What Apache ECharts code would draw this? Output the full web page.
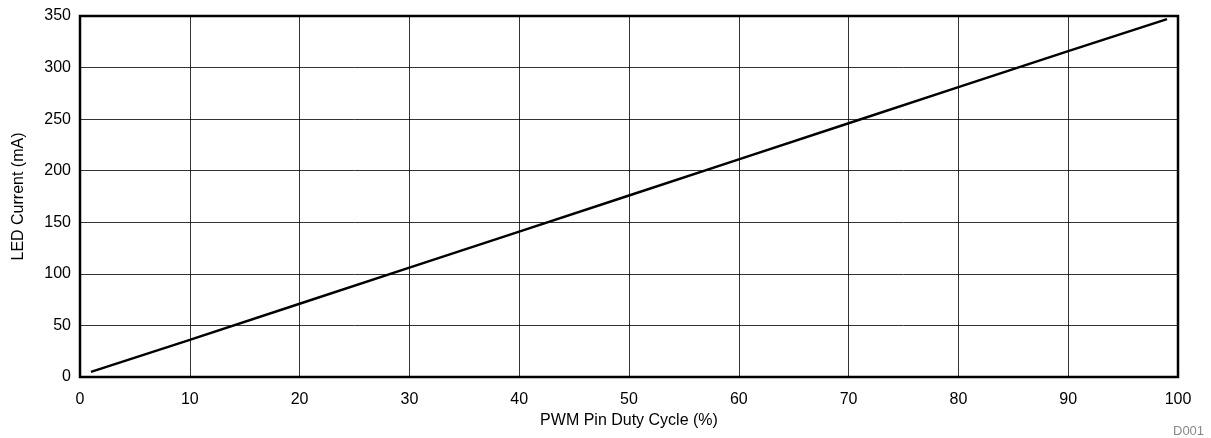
<!DOCTYPE html>
<html><head><meta charset="utf-8">
<script src="https://cdn.jsdelivr.net/npm/echarts@6/dist/echarts.min.js"></script>
<style>html,body{margin:0;padding:0;background:#fff}#c{width:1211px;height:438px}</style>
</head><body><div id="c"></div>
<script>
const dutyCycle = [1, 10, 20, 30, 40, 50, 60, 70, 80, 90, 99];
const ledCurrent = [5, 36, 71, 106, 141, 176, 211, 246, 281, 316, 347];
const xTitle = 'PWM Pin Duty Cycle (%)';
const yTitle = 'LED Current (mA)';
const note = 'D001';

const chart = echarts.init(document.getElementById('c'));
const font = 'Liberation Sans, Arial, sans-serif';
chart.setOption({
  animation: false,
  grid: { left: 80, right: 33, top: 16, bottom: 61, show: true, borderColor: '#000', borderWidth: 2.5, backgroundColor: 'transparent' },
  xAxis: {
    type: 'value', min: 0, max: 100, interval: 10,
    name: xTitle, nameLocation: 'middle', nameGap: 31,
    nameTextStyle: { fontFamily: font, fontSize: 16, color: '#000' },
    axisLine: { show: false }, axisTick: { show: false },
    axisLabel: { fontFamily: font, fontSize: 16, color: '#000', margin: 15 },
    splitLine: { show: true, lineStyle: { color: '#000', width: 0.8 } }
  },
  yAxis: {
    type: 'value', min: 0, max: 350, interval: 50,
    name: yTitle, nameLocation: 'middle', nameGap: 53,
    nameTextStyle: { fontFamily: font, fontSize: 16, color: '#000' },
    axisLine: { show: false }, axisTick: { show: false },
    axisLabel: { fontFamily: font, fontSize: 16, color: '#000', margin: 9 },
    splitLine: { show: true, lineStyle: { color: '#000', width: 0.8 } }
  },
  graphic: [{ type: 'text', left: 1173, top: 425, style: { text: note, fontFamily: font, fontSize: 13, fill: '#888' } }],
  series: [{
    type: 'line', data: dutyCycle.map((d, i) => [d, ledCurrent[i]]),
    showSymbol: false, lineStyle: { color: '#000', width: 2.5 }
  }]
});
</script></body></html>
